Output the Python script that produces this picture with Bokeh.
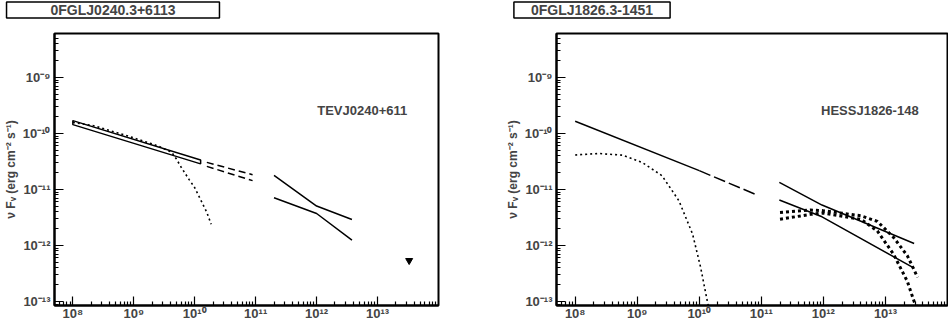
import math
from bokeh.plotting import figure
from bokeh.models import FixedTicker, CustomJSTickFormatter, Label
from bokeh.layouts import row, column
from bokeh.embed import file_html
from bokeh.resources import INLINE

# ---------------- data ----------------
x_limits = (5e7, 1e14)
y_limits = (8.5e-14, 6.1e-9)

x_tick_exps = [8, 9, 10, 11, 12, 13]
x_tick_labels = ["10⁸", "10⁹", "10¹⁰", "10¹¹", "10¹²", "10¹³"]
y_tick_exps = [-13, -12, -11, -10, -9]
y_tick_labels = ["10⁻¹³", "10⁻¹²", "10⁻¹¹", "10⁻¹⁰", "10⁻⁹"]
y_axis_title = "ν Fᵥ (erg cm⁻² s⁻¹)"

# left panel: 0FGLJ0240.3+6113
l_title = "0FGLJ0240.3+6113"
l_tev_name = "TEVJ0240+611"
l_fermi_x = [1e8, 1.25e10]
l_fermi_hi = [1.70e-10, 3.37e-11]
l_fermi_lo = [1.44e-10, 2.87e-11]
l_ext_x = [1.58e10, 8.9e10]
l_ext_hi = [3.05e-11, 1.84e-11]
l_ext_lo = [2.59e-11, 1.44e-11]
l_cut_x = [1.0e8, 2.2e8, 8.3e8, 2.5e9, 4.2e9, 5.0e9, 6.0e9, 8.1e9, 9.8e9, 1.17e10, 1.58e10, 1.86e10]
l_cut_y = [1.58e-10, 1.38e-10, 8.9e-11, 6.0e-11, 4.6e-11, 3.5e-11, 2.5e-11, 1.5e-11, 1.12e-11, 7.6e-12, 3.9e-12, 2.4e-12]
l_tev_x = [2.0e11, 1.0e12, 3.8e12]
l_tev_a = [1.79e-11, 5.07e-12, 2.92e-12]
l_tev_b = [7.13e-12, 3.73e-12, 1.25e-12]
l_ul_x = [3.3e13]
l_ul_y = [5.4e-13]

# right panel: 0FGLJ1826.3-1451
r_title = "0FGLJ1826.3-1451"
r_tev_name = "HESSJ1826-148"
r_fermi_x = [1e8, 1e10]
r_fermi_y = [1.65e-10, 2.17e-11]
r_ext_x = [1e10, 8.5e10]
r_ext_y = [2.17e-11, 8.0e-12]
r_cut_x = [1e8, 2.4e8, 5.8e8, 1.2e9, 2.5e9, 4.7e9, 7.8e9, 1.05e10, 1.35e10, 1.5e10]
r_cut_y = [4.14e-11, 4.4e-11, 4.1e-11, 3.05e-11, 1.77e-11, 6.3e-12, 1.6e-12, 4.1e-13, 1.0e-13, 6e-14]
r_tev_x = [1.95e11, 9.5e11, 2.9e13]
r_tev_a = [1.34e-11, 5.28e-12, 1.09e-12]
r_tev_b = [6.49e-12, 3.26e-12, 3.94e-13]
r_mod_x_hi = [2e11, 6.2e11, 9.7e11, 4.0e12, 7.4e12, 1.35e13, 2.25e13, 3.3e13]
r_mod_hi = [3.9e-12, 4.3e-12, 4.2e-12, 3.4e-12, 2.7e-12, 1.40e-12, 6.6e-13, 2.7e-13]
r_mod_x_lo = [2e11, 6.2e11, 9.7e11, 4.0e12, 7.4e12, 1.35e13, 2.25e13, 2.9e13, 3.4e13]
r_mod_lo = [2.95e-12, 3.6e-12, 3.8e-12, 2.95e-12, 1.82e-12, 7.0e-13, 2.3e-13, 1.0e-13, 7e-14]

name_x = 5.6e12
name_y = 2.55e-10

FONT = "Liberation Sans"
TITLE_H = 20


def make_title(text, cx, pad):
    t = figure(width=474, height=TITLE_H, x_range=(0, 1), y_range=(0, 1),
               output_backend="svg", toolbar_location=None,
               x_axis_location=None, y_axis_location=None, min_border=0)
    t.outline_line_color = None
    t.background_fill_color = "white"
    t.border_fill_color = "white"
    t.xgrid.visible = False
    t.ygrid.visible = False
    t.add_layout(Label(x=cx, y=TITLE_H - 9.5, x_units="screen", y_units="screen",
                       text=text, text_align="center", text_baseline="middle",
                       text_font=FONT, text_font_style="bold", text_font_size="14px",
                       background_fill_color="white", border_line_color="black",
                       border_line_width=1.5, padding=(pad, 0)))
    return t


def make_panel(border_left, border_right):
    p = figure(width=474, height=324 - TITLE_H, x_axis_type="log", y_axis_type="log",
               x_range=x_limits, y_range=y_limits, output_backend="svg",
               toolbar_location=None, min_border_left=border_left,
               min_border_right=border_right, min_border_top=33 - TITLE_H,
               min_border_bottom=19)
    p.background_fill_color = "white"
    p.border_fill_color = "white"
    p.outline_line_color = "black"
    p.outline_line_width = 2
    p.xgrid.visible = False
    p.ygrid.visible = False

    x_minor = [m * 10.0 ** e for e in range(7, 14) for m in range(2, 10)]
    y_minor = [m * 10.0 ** e for e in range(-14, -8) for m in range(2, 10)]
    p.xaxis.ticker = FixedTicker(ticks=[10.0 ** e for e in x_tick_exps], minor_ticks=x_minor)
    p.yaxis.ticker = FixedTicker(ticks=[10.0 ** e for e in y_tick_exps], minor_ticks=y_minor)
    code = """
        const e = Math.round(Math.log10(tick));
        const i = exps.indexOf(e);
        return i >= 0 ? labels[i] : "";
    """
    p.xaxis.formatter = CustomJSTickFormatter(args=dict(exps=x_tick_exps, labels=x_tick_labels), code=code)
    p.yaxis.formatter = CustomJSTickFormatter(args=dict(exps=y_tick_exps, labels=y_tick_labels), code=code)
    for ax in (p.xaxis, p.yaxis):
        ax.axis_line_width = 2
        ax.major_tick_in = 9
        ax.major_tick_out = 0
        ax.minor_tick_in = 4
        ax.minor_tick_out = 0
        ax.major_tick_line_width = 1.2
        ax.minor_tick_line_width = 1.2
        ax.major_label_text_font = FONT
        ax.major_label_text_font_style = "bold"
        ax.major_label_text_font_size = "13px"
    p.xaxis.major_label_standoff = 0
    p.xaxis.major_label_text_line_height = 1.0
    p.yaxis.major_label_standoff = 4
    p.yaxis.axis_label = y_axis_title
    p.yaxis.axis_label_standoff = 2
    p.yaxis.axis_label_text_font = FONT
    p.yaxis.axis_label_text_font_style = "bold"
    p.yaxis.axis_label_text_font_size = "12px"
    return p


def add_name(p, name):
    p.add_layout(Label(x=name_x, y=name_y, text=name, text_align="center",
                       text_baseline="middle", text_font=FONT, text_font_style="bold",
                       text_font_size="13px"))


# ---------------- left panel ----------------
t1 = make_title(l_title, 112.5, 44)
p1 = make_panel(47, 36)
p1.patch(l_fermi_x + l_fermi_x[::-1], l_fermi_hi + l_fermi_lo[::-1],
         fill_alpha=0, line_color="black", line_width=1.5)
p1.line(l_ext_x, l_ext_hi, line_color="black", line_width=1.5, line_dash="7 4")
p1.line(l_ext_x, l_ext_lo, line_color="black", line_width=1.5, line_dash="7 4")
p1.line(l_cut_x, l_cut_y, line_color="black", line_width=1.6, line_dash="2 3")
p1.line(l_tev_x, l_tev_a, line_color="black", line_width=1.5)
p1.line(l_tev_x, l_tev_b, line_color="black", line_width=1.5)
p1.scatter(l_ul_x, l_ul_y, marker="inverted_triangle", size=7, color="black")
add_name(p1, l_tev_name)

# ---------------- right panel ----------------
t2 = make_title(r_title, 117.5, 17)
p2 = make_panel(82, 1)
p2.line(r_fermi_x, r_fermi_y, line_color="black", line_width=1.5)
p2.line(r_ext_x, r_ext_y, line_color="black", line_width=1.5, line_dash="12 4")
p2.line(r_cut_x, r_cut_y, line_color="black", line_width=1.6, line_dash="2 3")
p2.line(r_tev_x, r_tev_a, line_color="black", line_width=1.5)
p2.line(r_tev_x, r_tev_b, line_color="black", line_width=1.5)
p2.line(r_mod_x_hi, r_mod_hi, line_color="black", line_width=3, line_dash="3 3")
p2.line(r_mod_x_lo, r_mod_lo, line_color="black", line_width=3, line_dash="3 3")
add_name(p2, r_tev_name)

layout = column(row(t1, t2), row(p1, p2))
open("out.html", "w").write(file_html(layout, INLINE))
